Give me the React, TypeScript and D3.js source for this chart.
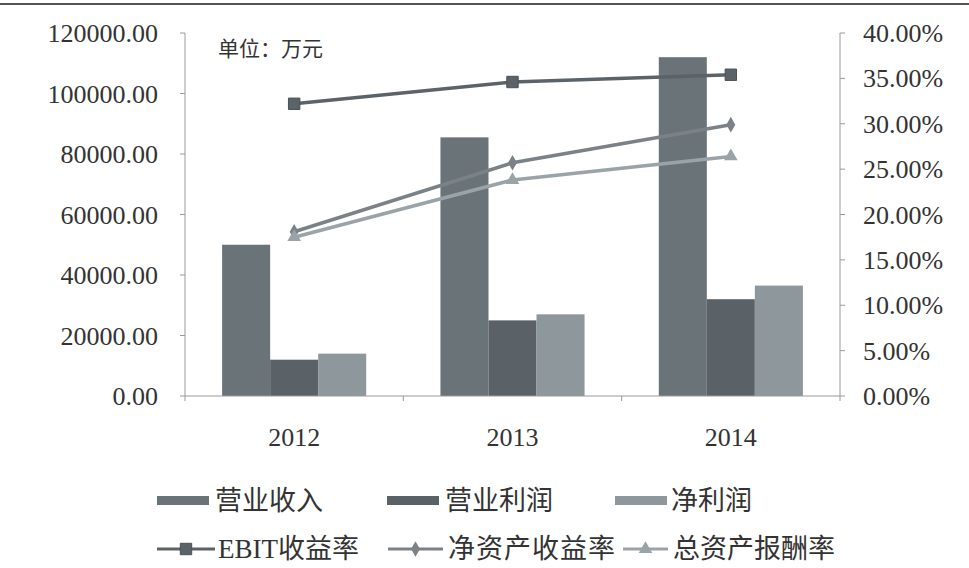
import React from "react";
import * as d3 from "d3";

const years = ["2012", "2013", "2014"];
const barSeries = ["营业收入", "营业利润", "净利润"];
const revenue = [50000, 85500, 112000];
const opProfit = [12000, 25000, 32000];
const netProfit = [14000, 27000, 36500];
const lineSeries = ["EBIT收益率", "净资产收益率", "总资产报酬率"];
const ebitRate = [0.322, 0.346, 0.354];
const roe = [0.181, 0.257, 0.299];
const roa = [0.175, 0.238, 0.264];
const leftTicks = [0, 20000, 40000, 60000, 80000, 100000, 120000];
const rightTicks = [0, 0.05, 0.1, 0.15, 0.2, 0.25, 0.3, 0.35, 0.4];

const barColors = ["#6a7378", "#5b6267", "#8e979c"];
const lineColors = ["#5b6368", "#7a8287", "#9aa3a8"];

const W = 969, H = 568;
const L = 185, R = 840, T = 33, B = 396;
const serif = "'Liberation Serif', 'DejaVu Serif', serif";
const cjk = "'Noto Sans CJK SC', sans-serif";

function Marker({ kind, x, y, color }: { kind: number; x: number; y: number; color: string }) {
  if (kind === 0) {
    const sym = d3.symbol().type(d3.symbolSquare).size(130)();
    return <path d={sym!} transform={`translate(${x},${y})`} fill={color} stroke="#4a5156" strokeWidth={1} />;
  }
  if (kind === 1) {
    const sym = d3.symbol().type(d3.symbolDiamond).size(70)();
    return <path d={sym!} transform={`translate(${x},${y})`} fill={color} />;
  }
  const sym = d3.symbol().type(d3.symbolTriangle).size(80)();
  return <path d={sym!} transform={`translate(${x},${y})`} fill={color} />;
}

export default function App() {
  const x = d3.scaleBand<string>().domain(years).range([L, R]).paddingInner(0).paddingOuter(0);
  const bw = x.bandwidth();
  const gpad = bw * 0.17;
  const x1 = d3.scaleBand<string>().domain(barSeries).range([gpad, bw - gpad]);
  const yL = d3.scaleLinear().domain([0, 120000]).range([B, T]);
  const yR = d3.scaleLinear().domain([0, 0.4]).range([B, T]);
  const barData = [revenue, opProfit, netProfit];
  const lineData = [ebitRate, roe, roa];
  const cx = (y: string) => (x(y) as number) + bw / 2;
  const lineGen = d3
    .line<[number, number]>()
    .x((d) => d[0])
    .y((d) => d[1]);

  const legendRow1 = [
    { sx: 157, tx: 215 },
    { sx: 387, tx: 445 },
    { sx: 615, tx: 671 },
  ];
  const legendRow2 = [
    { lx0: 157, lx1: 215, tx: 218 },
    { lx0: 388, lx1: 443, tx: 448 },
    { lx0: 623, lx1: 668, tx: 673 },
  ];

  return (
    <svg width={W} height={H} style={{ display: "block", position: "absolute", left: 0, top: 0, background: "#fff" }}>
      <rect x={0} y={0} width={W} height={H} fill="#fff" />
      <line x1={0} x2={W} y1={4} y2={4} stroke="#555" strokeWidth={2} />

      {/* bars */}
      {barData.map((vals, si) =>
        years.map((yr, i) => (
          <rect
            key={`b${si}-${i}`}
            x={(x(yr) as number) + (x1(barSeries[si]) as number)}
            y={yL(vals[i])}
            width={x1.bandwidth()}
            height={B - yL(vals[i])}
            fill={barColors[si]}
          />
        ))
      )}

      {/* axes */}
      <line x1={L} x2={L} y1={T} y2={B} stroke="#9a9a9a" strokeWidth={1} />
      <line x1={R} x2={R} y1={T} y2={B} stroke="#9a9a9a" strokeWidth={1} />
      <line x1={L} x2={R} y1={B} y2={B} stroke="#9a9a9a" strokeWidth={1} />
      {leftTicks.map((t) => (
        <g key={`lt${t}`}>
          <line x1={L - 5} x2={L} y1={yL(t)} y2={yL(t)} stroke="#9a9a9a" />
          <text x={158} y={yL(t)} dy="0.35em" textAnchor="end" fontFamily={serif} fontSize={26} fill="#333">
            {d3.format(".2f")(t)}
          </text>
        </g>
      ))}
      {rightTicks.map((t) => (
        <g key={`rt${t}`}>
          <line x1={R} x2={R + 5} y1={yR(t)} y2={yR(t)} stroke="#9a9a9a" />
          <text x={863} y={yR(t)} dy="0.35em" textAnchor="start" fontFamily={serif} fontSize={26} fill="#333">
            {d3.format(".2%")(t)}
          </text>
        </g>
      ))}
      {years.concat(["end"]).map((yr, i) => {
        const xx = i < years.length ? (x(yr) as number) : R;
        return <line key={`xt${i}`} x1={xx} x2={xx} y1={B} y2={B + 5} stroke="#9a9a9a" />;
      })}
      {years.map((yr) => (
        <text key={`xl${yr}`} x={cx(yr)} y={437} dy="0.35em" textAnchor="middle" fontFamily={serif} fontSize={26} fill="#333">
          {yr}
        </text>
      ))}

      <text x={218} y={49} dy="0.35em" fontFamily={cjk} fontSize={21} fill="#333">
        单位：万元
      </text>

      {/* lines */}
      {lineData.map((vals, si) => {
        const pts: [number, number][] = years.map((yr, i) => [cx(yr), yR(vals[i])]);
        return (
          <g key={`l${si}`}>
            <path d={lineGen(pts)!} fill="none" stroke={lineColors[si]} strokeWidth={3.5} />
            {pts.map((p, i) => (
              <Marker key={i} kind={si} x={p[0]} y={p[1]} color={lineColors[si]} />
            ))}
          </g>
        );
      })}

      {/* legend */}
      {barSeries.map((s, i) => (
        <g key={`lg1${i}`}>
          <rect x={legendRow1[i].sx} y={496} width={52} height={9} fill={barColors[i]} />
          <text x={legendRow1[i].tx} y={501} dy="0.35em" fontFamily={cjk} fontSize={27} fill="#333">
            {s}
          </text>
        </g>
      ))}
      {lineSeries.map((s, i) => {
        const it = legendRow2[i];
        return (
          <g key={`lg2${i}`}>
            <line x1={it.lx0} x2={it.lx1} y1={549} y2={549} stroke={lineColors[i]} strokeWidth={3} />
            <Marker kind={i} x={(it.lx0 + it.lx1) / 2} y={549} color={lineColors[i]} />
            <text x={it.tx} y={549} dy="0.35em" fontFamily={cjk} fontSize={27} fill="#333" letterSpacing={i === 1 ? 1 : 0}>
              {i === 0 ? (
                <>
                  <tspan fontFamily={serif}>EBIT</tspan>
                  <tspan>收益率</tspan>
                </>
              ) : (
                s
              )}
            </text>
          </g>
        );
      })}
    </svg>
  );
}
